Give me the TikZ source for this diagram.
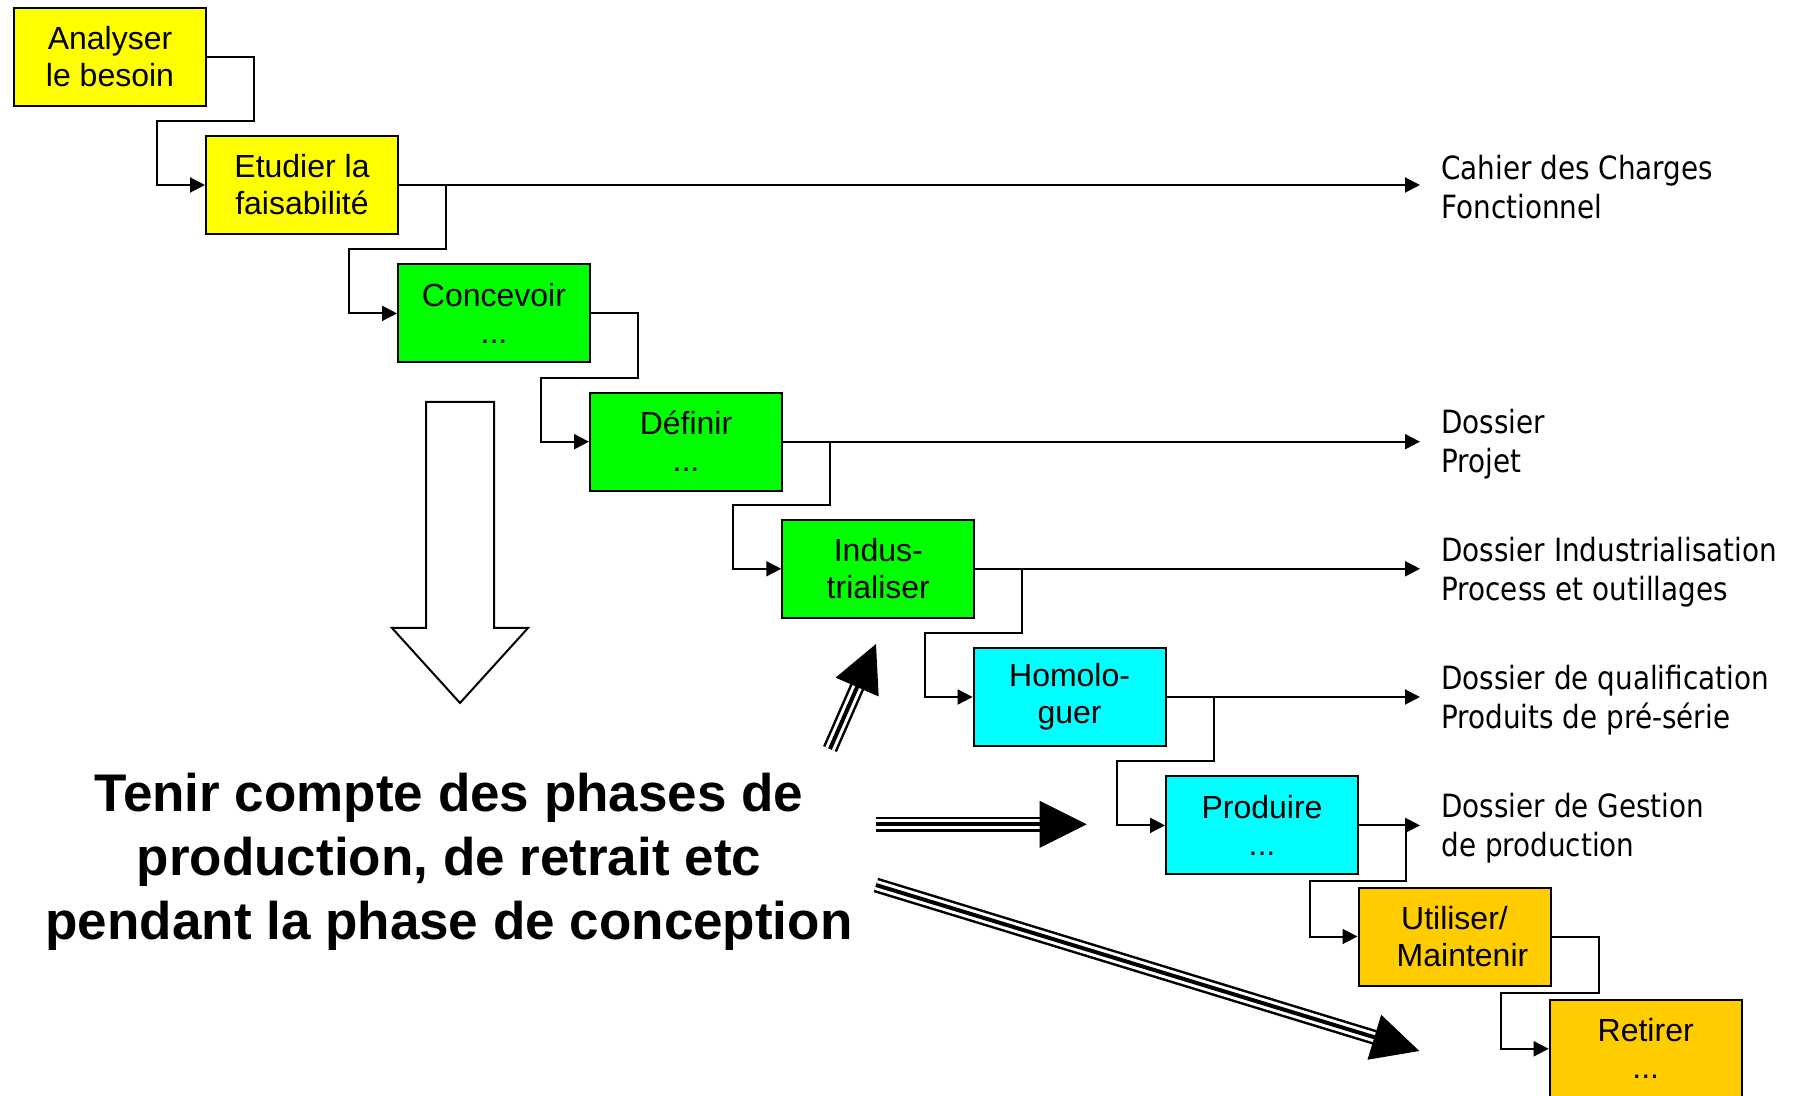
\documentclass[tikz,border=0pt]{standalone}
\usepackage{fontspec}
\setmainfont{Liberation Sans}
\newfontfamily\labfont[FakeStretch=0.87]{DejaVu Sans}
\usetikzlibrary{arrows.meta,calc}
\definecolor{cyel}{HTML}{FFFF00}
\definecolor{cgrn}{HTML}{00FF00}
\definecolor{ccya}{HTML}{00FFFF}
\definecolor{corg}{HTML}{FFCC00}
\tikzset{
  phase/.style={draw=black, line width=1pt, rectangle, minimum width=96pt, minimum height=49pt,
    inner sep=0pt, align=center, font=\fontsize{16pt}{18.5pt}\selectfont},
  conn/.style={line width=1pt, -{Triangle[length=7.5pt,width=7.5pt]}},
  outlab/.style={anchor=west, inner sep=0pt, align=left, font=\labfont\fontsize{16pt}{19.5pt}\selectfont},
  hollow/.style={draw=black, line width=1pt, fill=white, line join=miter},
}
\newcommand\steplink[2]{%
  \coordinate (g#1) at ($(#1.south)!0.5!(#2.north)$);
  \coordinate (l#1) at ($(#2.west)+(-48,0)$);
  \coordinate (r#1) at ($(#1.east)+(47,0)$);
  \draw[conn] (#1.east) -- (r#1) |- (l#1 |- g#1) |- (#2.west);}
\newcommand\triplearrow[3]{%
  \coordinate (tb#3) at ($(#2)!23.5pt!(#1)$);
  \coordinate (tx#3) at ($(#2)!22.5pt!(#1)$);
  \draw[line width=7.5pt] (#1) -- (tx#3);
  \draw[line width=5pt, white] (#1) -- (tx#3);
  \draw[line width=2pt] (#1) -- (tx#3);
  \fill ($(tb#3)!11.75pt!90:(#2)$) -- (#2) -- ($(tb#3)!11.75pt!-90:(#2)$) -- cycle;}
\begin{document}
\begin{tikzpicture}[x=0.5pt, y=-0.5pt]
\fill[white] (0,0) rectangle (1796,1096);
\useasboundingbox (0,0) rectangle (1796,1096);
% phases
\node[phase, fill=cyel] (A) at (110,56.8) {Analyser\\le besoin};
\node[phase, fill=cyel] (E) at (302,185) {Etudier la\\faisabilité};
\node[phase, fill=cgrn] (C) at (494,313.4) {Concevoir\\...};
\node[phase, fill=cgrn] (D) at (686,441.7) {Définir\\...};
\node[phase, fill=cgrn] (I) at (878.3,568.8) {Indus-\\trialiser};
\node[phase, fill=ccya] (H) at (1069.6,697) {Homolo-\\guer};
\node[phase, fill=ccya] (P) at (1262,825.4) {Produire\\...};
\node[phase, fill=corg] (U) at (1454.5,936.5) {Utiliser/\\\hspace*{8pt}Maintenir};
\node[phase, fill=corg] (R) at (1645.7,1048.8) {Retirer\\...};
% chain links
\steplink{A}{E}
\steplink{E}{C}
\steplink{C}{D}
\steplink{D}{I}
\steplink{I}{H}
\steplink{H}{P}
\steplink{P}{U}
\steplink{U}{R}
% outputs
\coordinate (outcol) at (1420,0);
\foreach \n in {E,D,I,H,P} {\draw[conn] (\n.east) -- (\n.east -| outcol);}
\node[outlab] (oE) at ($(E.east -| outcol)+(21,2)$) {Cahier des Charges\\Fonctionnel};
\node[outlab] (oD) at ($(D.east -| outcol)+(21,2.5)$) {Dossier\\Projet};
\node[outlab] (oI) at ($(I.east -| outcol)+(21,3)$) {Dossier Industrialisation\\Process et outillages};
\node[outlab] (oH) at ($(H.east -| outcol)+(21,3)$) {Dossier de qualification\\Produits de pré-série};
\node[outlab] (oP) at ($(P.east -| outcol)+(21,3)$) {Dossier de Gestion\\de production};
% hollow down arrow
\draw[hollow] (426,402) -- (494,402) -- (494,628) -- (528,628) -- (460,703) -- (392,628) -- (426,628) -- cycle;
% main text
\node[font=\bfseries\fontsize{26.5pt}{32pt}\selectfont, align=center, inner sep=0pt] (txt) at (449,862)
  {Tenir compte des phases de\\production, de retrait etc\\pendant la phase de conception};
% triple arrows
\coordinate (s1) at (830,749); \coordinate (t1) at (876,644);
\coordinate (s2) at (876,824.3); \coordinate (t2) at (1086.7,824.3);
\coordinate (s3) at (876,885); \coordinate (t3) at (1419.3,1051);
\triplearrow{s1}{t1}{a}
\triplearrow{s2}{t2}{b}
\triplearrow{s3}{t3}{c}
\end{tikzpicture}
\end{document}
